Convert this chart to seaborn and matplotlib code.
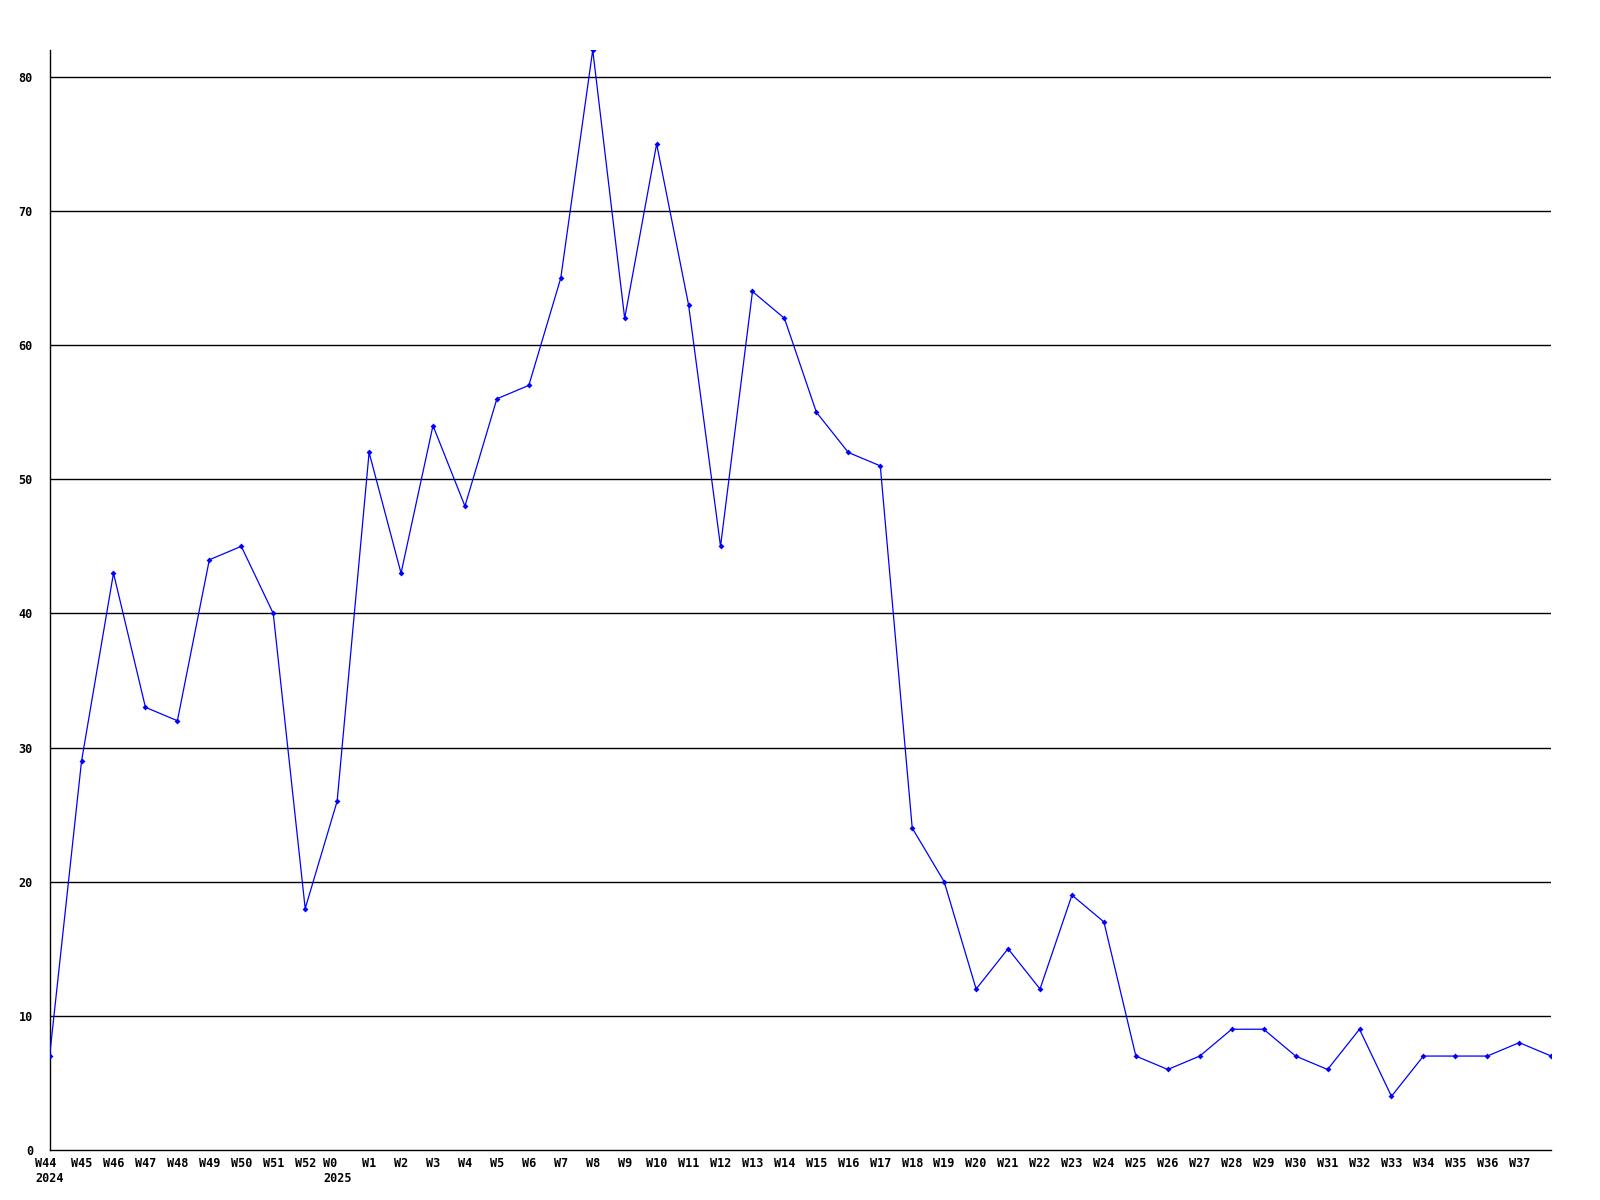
import numpy as np
import pandas as pd
import seaborn as sns
import matplotlib.pyplot as plt

# weekly counts, W44 2024 .. W38 2025 (last point has no label)
weeks = ['W44', 'W45', 'W46', 'W47', 'W48', 'W49', 'W50', 'W51', 'W52', 'W0',
         'W1', 'W2', 'W3', 'W4', 'W5', 'W6', 'W7', 'W8', 'W9', 'W10',
         'W11', 'W12', 'W13', 'W14', 'W15', 'W16', 'W17', 'W18', 'W19', 'W20',
         'W21', 'W22', 'W23', 'W24', 'W25', 'W26', 'W27', 'W28', 'W29', 'W30',
         'W31', 'W32', 'W33', 'W34', 'W35', 'W36', 'W37', '']
years = {'W44': '2024', 'W0': '2025'}
counts = [7, 29, 43, 33, 32, 44, 45, 40, 18, 26,
          52, 43, 54, 48, 56, 57, 65, 82, 62, 75,
          63, 45, 64, 62, 55, 52, 51, 24, 20, 12,
          15, 12, 19, 17, 7, 6, 7, 9, 9, 7,
          6, 9, 4, 7, 7, 7, 8, 7]
yticks = [0, 10, 20, 30, 40, 50, 60, 70, 80]

df = pd.DataFrame({'pos': np.arange(len(counts)), 'count': counts})

sns.set_style('white')
plt.rcParams['font.family'] = ['DejaVu Sans Mono']

fig = plt.figure(figsize=(16, 12), dpi=100)
ax = fig.add_axes([0.031, 0.0417, 0.9385, 0.9166])

for y in yticks[1:]:
    ax.axhline(y, color='black', lw=1, zorder=1)

sns.lineplot(data=df, x='pos', y='count', ax=ax, color='#0000ff', lw=0.9,
             marker='D', markersize=3, markeredgewidth=0, zorder=3)

ax.set_xlim(0, len(counts) - 1)
ax.set_ylim(0, 82)
ax.set_xticks(df['pos'])
labels = [w + ('\n' + years[w] if w in years else '') for w in weeks]
ax.set_xticklabels(labels, fontsize=8.5, fontweight='bold', multialignment='left',
                   va='top', color='black')
ax.set_yticks(yticks)
ax.set_yticklabels([str(v) for v in yticks], fontsize=8.5, fontweight='bold',
                   color='black')
ax.tick_params(axis='both', length=0)
ax.tick_params(axis='y', pad=12)
ax.tick_params(axis='x', pad=5)
ax.set_xlabel('')
ax.set_ylabel('')
for s in ['top', 'right']:
    ax.spines[s].set_visible(False)
for s in ['left', 'bottom']:
    ax.spines[s].set_color('black')
    ax.spines[s].set_linewidth(1)

fig.savefig('out.png', dpi=100)
